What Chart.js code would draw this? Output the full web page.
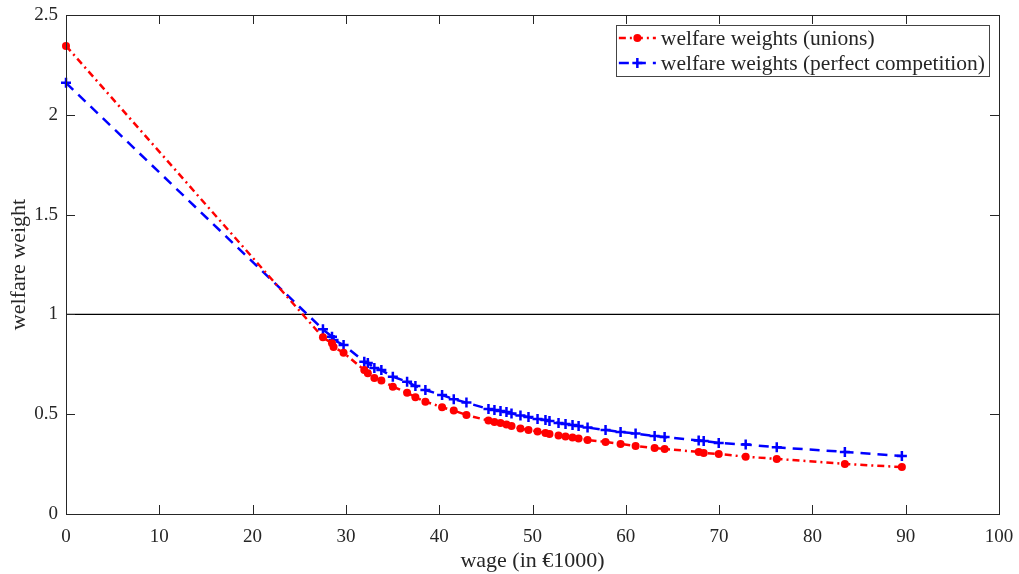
<!DOCTYPE html>
<html>
<head>
<meta charset="utf-8">
<script src="https://cdn.jsdelivr.net/npm/chart.js@4.4.1/dist/chart.umd.min.js"></script>
<style>
    html, body { margin: 0; padding: 0; background: #fff; }
    #wrap { width: 1019px; height: 574px; position: relative; }
</style>
</head>
<body>
<div id="wrap"><canvas id="welfareChart"></canvas></div>
<script>
// wage in thousands of euro (same wage points for both series)
const wage = [0, 27.54, 28.51, 28.68, 29.75, 31.97, 32.35, 33.05, 33.80, 35.03, 36.56, 37.45, 38.52,
    40.31, 41.56, 42.92, 45.28, 45.92, 46.57, 47.21, 47.75, 48.71, 49.57, 50.54, 51.39, 51.82,
    52.79, 53.54, 54.29, 54.94, 55.90, 57.83, 59.44, 61.05, 63.09, 64.16, 67.81, 68.35, 69.96,
    72.85, 76.18, 83.48, 89.59];
const unionWeights = [2.345, 0.885, 0.855, 0.837, 0.808, 0.721, 0.705, 0.681, 0.669, 0.638, 0.608, 0.585, 0.563,
    0.535, 0.518, 0.496, 0.468, 0.461, 0.456, 0.448, 0.441, 0.428, 0.421, 0.413, 0.406, 0.401,
    0.393, 0.388, 0.383, 0.378, 0.371, 0.361, 0.351, 0.341, 0.331, 0.326, 0.311, 0.306, 0.301,
    0.287, 0.276, 0.251, 0.235];
const competitionWeights = [2.16, 0.925, 0.888, 0.872, 0.847, 0.763, 0.757, 0.731, 0.721, 0.688, 0.663, 0.641, 0.621,
    0.596, 0.575, 0.558, 0.526, 0.521, 0.516, 0.511, 0.504, 0.493, 0.486, 0.476, 0.471, 0.466,
    0.456, 0.451, 0.446, 0.441, 0.433, 0.421, 0.411, 0.403, 0.391, 0.386, 0.368, 0.366, 0.356,
    0.348, 0.334, 0.311, 0.291];
const xTicks = [0, 10, 20, 30, 40, 50, 60, 70, 80, 90, 100];
const yTicks = [0, 0.5, 1, 1.5, 2, 2.5];
const refLevel = 1;

const seriesLabels = ['welfare weights (unions)', 'welfare weights (perfect competition)'];
const axisColor = '#262626';
const redDash = [7, 4, 2, 4];
const blueDash = [10, 7];

Chart.defaults.font.family = "'Liberation Serif', 'Times New Roman', serif";
Chart.defaults.font.size = 19;
Chart.defaults.color = axisColor;

// box + inward ticks on all four sides, like a MATLAB axes
const frameTicks = {
    id: 'frameTicks',
    afterDatasetsDraw(chart) {
        const ctx = chart.ctx;
        const a = chart.chartArea;
        const xs = chart.scales.x, ys = chart.scales.y;
        const len = 9;
        ctx.save();
        ctx.strokeStyle = axisColor;
        ctx.lineWidth = 1;
        ctx.beginPath();
        xTicks.forEach(function(t) {
            const px = Math.round(xs.getPixelForValue(t)) + 0.5;
            ctx.moveTo(px, a.bottom); ctx.lineTo(px, a.bottom - len);
            ctx.moveTo(px, a.top); ctx.lineTo(px, a.top + len);
        });
        yTicks.forEach(function(t) {
            const py = Math.round(ys.getPixelForValue(t)) + 0.5;
            ctx.moveTo(a.left, py); ctx.lineTo(a.left + len, py);
            ctx.moveTo(a.right, py); ctx.lineTo(a.right - len, py);
        });
        ctx.stroke();
        ctx.strokeRect(Math.round(a.left) + 0.5, Math.round(a.top) + 0.5,
            Math.round(a.right - a.left), Math.round(a.bottom - a.top));
        ctx.restore();
    }
};

// legend drawn inside the plot, top right
const boxLegend = {
    id: 'boxLegend',
    afterDraw(chart) {
        const ctx = chart.ctx;
        const a = chart.chartArea;
        ctx.save();
        ctx.font = "21.5px 'Liberation Serif', 'Times New Roman', serif";
        const textW = Math.max.apply(null, seriesLabels.map(function(s) { return ctx.measureText(s).width; }));
        const sampleW = 37, gap = 5, padL = 3, padR = 4;
        const w = padL + sampleW + gap + textW + padR;
        const h = 51;
        const right = a.right - 10;
        const left = right - w;
        const top = a.top + 10;
        ctx.fillStyle = '#fff';
        ctx.fillRect(left, top, w, h);
        ctx.strokeStyle = '#444';
        ctx.lineWidth = 1;
        ctx.strokeRect(Math.round(left) + 0.5, Math.round(top) + 0.5, Math.round(w), h);
        const rows = [top + 13, top + 38];
        chart.data.datasets.slice(0, 2).forEach(function(ds, i) {
            const y = rows[i];
            const x0 = left + padL;
            ctx.strokeStyle = ds.borderColor;
            ctx.lineWidth = ds.borderWidth;
            ctx.setLineDash(ds.borderDash);
            ctx.beginPath();
            ctx.moveTo(x0, y); ctx.lineTo(x0 + sampleW, y);
            ctx.stroke();
            ctx.setLineDash([]);
            const mx = x0 + sampleW / 2;
            if (i === 0) {
                ctx.fillStyle = ds.borderColor;
                ctx.beginPath();
                ctx.arc(mx, y, 4, 0, Math.PI * 2);
                ctx.fill();
            } else {
                ctx.beginPath();
                ctx.moveTo(mx - 5, y); ctx.lineTo(mx + 5, y);
                ctx.moveTo(mx, y - 5); ctx.lineTo(mx, y + 5);
                ctx.stroke();
            }
            ctx.fillStyle = axisColor;
            ctx.textBaseline = 'middle';
            ctx.textAlign = 'left';
            ctx.fillText(seriesLabels[i], x0 + sampleW + gap, y + 1);
        });
        ctx.restore();
    }
};

const ctx = document.getElementById('welfareChart').getContext('2d');
const welfareChart = new Chart(ctx, {
    type: 'line',
    data: {
        datasets: [{
            label: seriesLabels[0],
            data: wage.map(function(w, i) { return { x: w, y: unionWeights[i] }; }),
            borderColor: '#ff0000',
            backgroundColor: '#ff0000',
            borderWidth: 2.5,
            borderDash: redDash,
            pointStyle: 'circle',
            pointRadius: 4,
            pointBorderWidth: 0,
            pointBackgroundColor: '#ff0000',
            clip: false,
            order: 1
        }, {
            label: seriesLabels[1],
            data: wage.map(function(w, i) { return { x: w, y: competitionWeights[i] }; }),
            borderColor: '#0000ff',
            backgroundColor: '#0000ff',
            borderWidth: 2.5,
            borderDash: blueDash,
            pointStyle: 'cross',
            pointRadius: 5,
            pointBorderWidth: 2.5,
            pointBorderColor: '#0000ff',
            clip: false,
            order: 2
        }, {
            label: 'reference',
            data: [{ x: xTicks[0], y: refLevel }, { x: xTicks[xTicks.length - 1], y: refLevel }],
            borderColor: '#000000',
            borderWidth: 1.3,
            pointRadius: 0,
            order: 3
        }]
    },
    options: {
        responsive: true,
        maintainAspectRatio: false,
        animation: false,
        events: [],
        layout: { padding: { top: 15, right: 20, left: 0, bottom: 0 } },
        plugins: {
            legend: { display: false },
            tooltip: { enabled: false }
        },
        scales: {
            x: {
                type: 'linear',
                min: 0,
                max: 100,
                afterBuildTicks: function(scale) { scale.ticks = xTicks.map(function(v) { return { value: v }; }); },
                afterFit: function(scale) { scale.height = 60; scale.paddingLeft = 0; scale.paddingRight = 0; },
                grid: { display: false, drawTicks: false },
                border: { display: false },
                ticks: { padding: 12, maxRotation: 0, color: axisColor, font: { size: 19 } },
                title: { display: true, text: 'wage (in €1000)', color: axisColor, font: { size: 22 }, padding: { top: 0, bottom: 0 } }
            },
            y: {
                type: 'linear',
                min: 0,
                max: 2.5,
                afterBuildTicks: function(scale) { scale.ticks = yTicks.map(function(v) { return { value: v }; }); },
                afterFit: function(scale) { scale.width = 66; scale.paddingTop = 0; scale.paddingBottom = 0; },
                grid: { display: false, drawTicks: false },
                border: { display: false },
                ticks: { padding: 8, color: axisColor, font: { size: 19 }, callback: function(v) { return String(v); } },
                title: { display: true, text: 'welfare weight', color: axisColor, font: { size: 22 }, padding: { top: 6, bottom: 0 } }
            }
        }
    },
    plugins: [frameTicks, boxLegend]
});
</script>
</body>
</html>
